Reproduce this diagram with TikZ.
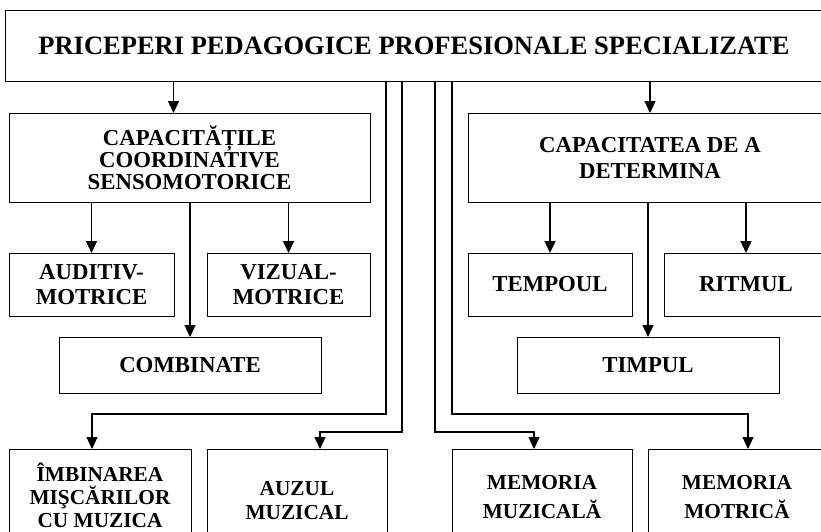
\documentclass[tikz,border=0pt]{standalone}
\usepackage{fontspec}
\setmainfont{Liberation Serif}
\usetikzlibrary{arrows.meta,positioning}

\begin{document}
\begin{tikzpicture}[
		x=1pt, y=1pt,
		node distance=32pt,
		block/.style={draw, line width=1pt, outer sep=0pt, inner sep=0pt, align=center, font=\bfseries\fontsize{22.8}{25}\selectfont},
		arr/.style={-{Triangle[length=12pt, width=11pt]}, line width=1.3pt},
	]
		\useasboundingbox (0,0) rectangle (821,-531);
		\clip (0,0) rectangle (821,-531);
		\node[block, anchor=north west, minimum width=818pt, minimum height=71pt, font=\bfseries\fontsize{26.5}{30}\selectfont] (ppps) at (5,-10) {PRICEPERI PEDAGOGICE PROFESIONALE SPECIALIZATE};
		\node[block, below right=32pt and 4pt of ppps.south west, anchor=north west, minimum width=361pt, minimum height=89pt, font=\bfseries\fontsize{22.8}{22}\selectfont] (coord) {CAPACITĂȚILE\\COORDINATIVE\\SENSOMOTORICE};
		\node[block, right=98pt of coord.north east, anchor=north west, minimum width=364pt, minimum height=89pt, font=\bfseries\fontsize{22.8}{26}\selectfont] (determ) {CAPACITATEA DE A\\DETERMINA};
		
		\node[block, below=51pt of coord.south west, anchor=north west, minimum width=165pt, minimum height=63pt] (audit) {AUDITIV-\\MOTRICE};
		\node[block, below=51pt of coord.south east, anchor=north east, minimum width=163pt, minimum height=63pt] (vizual) {VIZUAL-\\MOTRICE};
		\node[block, below right=21pt and 50pt of audit.south west, anchor=north west, minimum width=262pt, minimum height=56pt] (comb) {COMBINATE};
		
		\node[block, below=51pt of determ.south west, anchor=north west, minimum width=164pt, minimum height=63pt] (tempo) {TEMPOUL};
		\node[block, right=of tempo.north east, anchor=north west, minimum width=164pt, minimum height=63pt] (ritm) {RITMUL};
		\node[block, below right=21pt and 49pt of tempo.south west, anchor=north west, minimum width=262pt, minimum height=56pt] (timp) {TIMPUL};
		
		\node[block, below=133pt of audit.south west, anchor=north west, minimum width=182pt, minimum height=92pt, font=\bfseries\fontsize{21.3}{23}\selectfont] (imbin) {ÎMBINAREA\\MIŞCĂRILOR\\CU MUZICA};
		\node[block, right=16pt of imbin.north east, anchor=north west, minimum width=180pt, minimum height=104pt, font=\bfseries\fontsize{21.3}{24}\selectfont] (auzul) {AUZUL\\MUZICAL};
		\node[block, right=65pt of auzul.north east, anchor=north west, minimum width=180pt, minimum height=97pt, font=\bfseries\fontsize{21.3}{29}\selectfont] (memmuz) {MEMORIA\\MUZICALĂ};
		\node[block, right=16pt of memmuz.north east, anchor=north west, minimum width=178pt, minimum height=97pt, font=\bfseries\fontsize{21.3}{29}\selectfont] (memmot) {MEMORIA\\MOTRICĂ};
		
		\draw[arr] ([xshift=-16pt]coord.north |- ppps.south) -- ([xshift=-16pt]coord.north);
		\draw[arr] (determ.north |- ppps.south) -- (determ.north);
		\draw[arr] (audit.north |- coord.south) -- (audit.north);
		\draw[arr] (vizual.north |- coord.south) -- (vizual.north);
		\draw[arr] (comb.north |- coord.south) -- (comb.north);
		\draw[arr] (tempo.north |- determ.south) -- (tempo.north);
		\draw[arr] (ritm.north |- determ.south) -- (ritm.north);
		\draw[arr] (timp.north |- determ.south) -- (timp.north);
		
		\draw[arr] ([xshift=-28pt]ppps.south) |- ([xshift=-8pt, yshift=35pt]imbin.north) -- ([xshift=-8pt]imbin.north);
		\draw[arr] ([xshift=-12pt]ppps.south) |- ([xshift=23pt, yshift=17pt]auzul.north) -- ([xshift=23pt]auzul.north);
		\draw[arr] ([xshift=21pt]ppps.south) |- ([xshift=-8pt, yshift=17pt]memmuz.north) -- ([xshift=-8pt]memmuz.north);
		\draw[arr] ([xshift=38pt]ppps.south) |- ([xshift=11pt, yshift=35pt]memmot.north) -- ([xshift=11pt]memmot.north);
	\end{tikzpicture}
\end{document}
